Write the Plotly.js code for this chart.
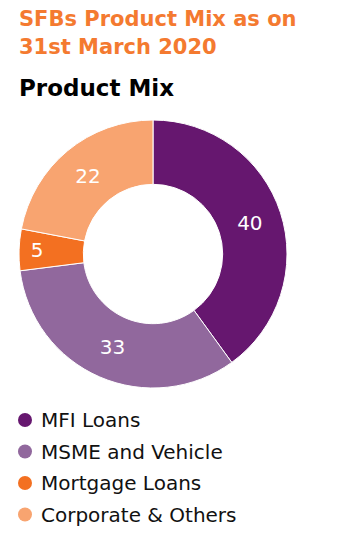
<!DOCTYPE html>
<html><head><meta charset="utf-8">
<script src="https://cdn.plot.ly/plotly-3.0.1.min.js"></script>
<style>html,body{margin:0;padding:0;background:#fff}#chart{width:341px;height:533px}</style>
</head><body><div id="chart"></div>
<script>
const categories = ["MFI Loans", "MSME and Vehicle", "Mortgage Loans", "Corporate & Others"];
const values = [40, 33, 5, 22];
const colors = ["#66176F", "#91689D", "#F37021", "#F8A470"];
const titleLines = ["SFBs Product Mix as on", "31st March 2020"];
const subtitleText = "Product Mix";

const W = 341, H = 533;
const FONT = "DejaVu Sans, sans-serif";
const px = x => x / W;
const py = y => 1 - y / H;

const annotations = [];
titleLines.forEach((t, i) => {
  annotations.push({
    text: "<b>" + t + "</b>", xref: "paper", yref: "paper",
    x: px(17), y: py(19 + i * 28), xanchor: "left", yanchor: "middle", showarrow: false,
    font: {family: FONT, size: 21, color: "#F47A30"}
  });
});
annotations.push({
  text: "<b>" + subtitleText + "</b>", xref: "paper", yref: "paper",
  x: px(17), y: py(88), xanchor: "left", yanchor: "middle", showarrow: false,
  font: {family: FONT, size: 23, color: "#000000"}
});

const legendTop = 420, legendStep = 31.5;
const shapes = [];
categories.forEach((c, i) => {
  const cy = legendTop + i * legendStep;
  annotations.push({
    text: c, xref: "paper", yref: "paper", x: px(39), y: py(cy),
    xanchor: "left", yanchor: "middle", showarrow: false,
    font: {family: FONT, size: 20, color: "#111111"}
  });
  shapes.push({
    type: "circle", xref: "paper", yref: "paper",
    x0: px(18), x1: px(32), y0: py(cy + 7), y1: py(cy - 7),
    fillcolor: colors[i], line: {width: 0}
  });
});

const trace = {
  type: "pie", labels: categories, values: values, hole: 0.52,
  sort: false, direction: "clockwise", rotation: 0,
  marker: {colors: colors, line: {color: "#ffffff", width: 1}},
  textinfo: "value", textposition: "inside", insidetextorientation: "horizontal",
  textfont: {family: FONT, size: 20, color: "#ffffff"},
  domain: {x: [px(19), px(287)], y: [py(388), py(120)]},
  showlegend: false, hoverinfo: "label+value"
};

const layout = {
  width: W, height: H, margin: {l: 0, r: 0, t: 0, b: 0},
  paper_bgcolor: "#ffffff",
  annotations: annotations, shapes: shapes, showlegend: false
};
Plotly.newPlot("chart", [trace], layout, {displayModeBar: false, staticPlot: true});
</script></body></html>
